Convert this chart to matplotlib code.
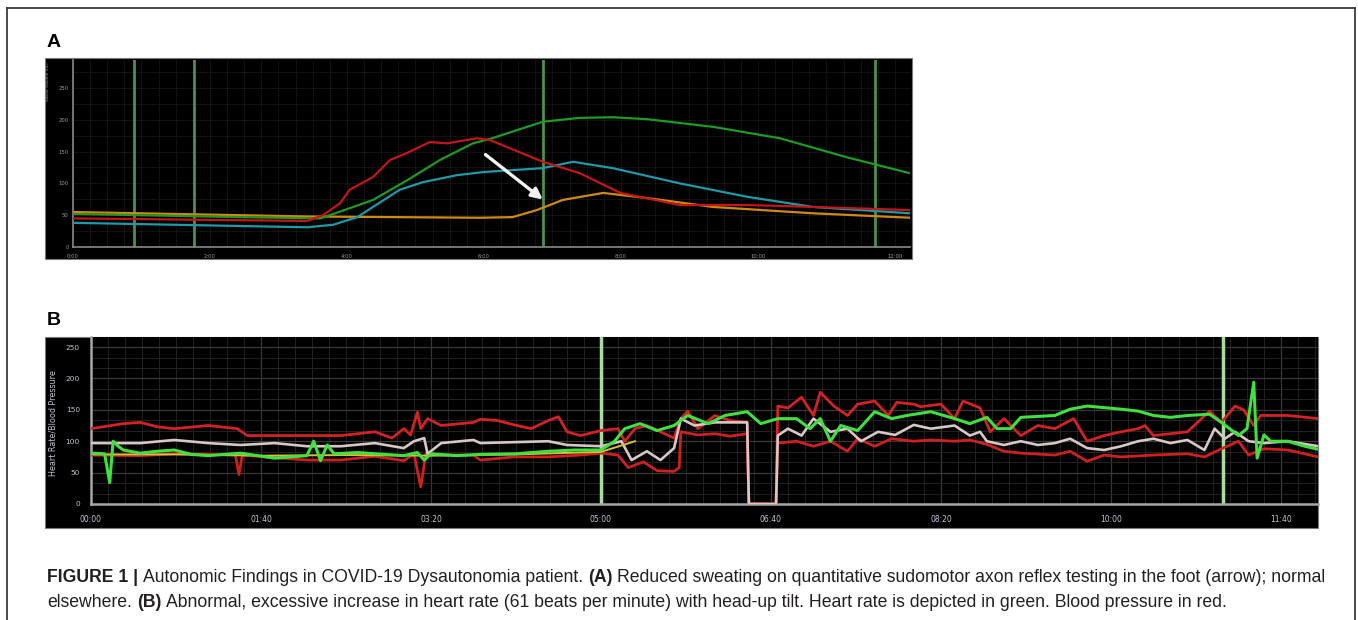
import matplotlib
matplotlib.use("Agg")
import matplotlib.pyplot as plt
from matplotlib.patches import Rectangle
from matplotlib.lines import Line2D
from matplotlib.ticker import MultipleLocator

W, H = 1358, 620

# ---- panel A: QSART sweat output (minutes / volume)
a_ticks = [0, 2, 4, 6, 8, 10, 12]
a_ticklabels = ["0:00", "2:00", "4:00", "6:00", "8:00", "10:00", "12:00"]
a_yticks = [0, 50, 100, 150, 200, 250]
a_stim = [0.89, 1.77, 6.86, 11.71]

a_green_t = [0, 2.44, 3.61, 3.75, 4.38, 4.88, 5.36, 5.84, 6.09, 6.86, 7.40, 7.88, 8.38, 9.34, 10.32, 11.30, 12.22]
a_green_v = [52, 47, 45, 50, 74, 105, 137, 163, 170, 197, 203, 204, 201, 189, 171, 141, 116]

a_red_t = [0, 3.42, 3.65, 3.90, 4.04, 4.38, 4.63, 4.88, 5.21, 5.46, 5.90, 6.09, 6.86, 7.40, 7.99, 8.86, 9.84, 10.80, 12.22]
a_red_v = [45, 41, 50, 69, 90, 110, 137, 148, 165, 163, 171, 168, 134, 116, 85, 66, 66, 63, 58]

a_cyan_t = [0, 3.42, 3.80, 4.15, 4.38, 4.77, 5.11, 5.61, 6.01, 6.86, 7.30, 7.88, 8.86, 9.84, 10.80, 12.22]
a_cyan_v = [38, 31, 35, 47, 63, 90, 102, 113, 118, 124, 134, 124, 100, 79, 63, 53]

a_orange_t = [0, 3.42, 5.94, 6.42, 6.77, 7.15, 7.74, 8.38, 9.34, 10.80, 12.22]
a_orange_v = [55, 48, 46, 47, 58, 74, 85, 77, 63, 53, 46]

a_arrow_from = (5.99, 148)
a_arrow_to = (6.89, 72)

# ---- panel B: tilt table, seconds / bpm or mmHg
b_ticks = [0, 100, 200, 300, 400, 500, 600, 700]
b_ticklabels = ["00:00", "01:40", "03:20", "05:00", "06:40", "08:20", "10:00", "11:40"]
b_yticks = [0, 50, 100, 150, 200, 250]
b_tilt = [300, 666]

hr_t = [0, 8, 11, 13, 16, 19, 29, 39, 49, 59, 69, 88, 108, 127, 131, 135, 139, 143, 157, 167,
        184, 192, 196, 200, 215, 229, 250, 269, 285, 300, 308, 314, 323, 333, 343, 351, 363,
        373, 386, 394, 404, 415, 423, 429, 435, 441, 451, 461, 471, 480, 494, 508, 517, 527,
        533, 541, 547, 567, 576, 586, 606, 616, 625, 635, 645, 658, 665, 675, 680, 684, 686,
        690, 694, 704, 714, 722]
hr_v = [81, 80, 34, 100, 92, 86, 81, 84, 86, 79, 77, 81, 73, 77, 100, 69, 94, 80, 82, 80,
        77, 82, 70, 80, 77, 79, 80, 84, 86, 86, 100, 120, 128, 117, 125, 141, 128,
        141, 147, 128, 136, 136, 120, 136, 100, 125, 117, 147, 136, 141, 147, 136, 128, 138,
        120, 120, 138, 141, 151, 156, 151, 148, 141, 138, 141, 143, 130, 109, 120, 194, 73,
        110, 100, 100, 92, 87]

sys_t = [0, 19, 29, 39, 49, 69, 86, 92, 108, 127, 147, 167, 177, 184, 188, 192, 194, 198, 206,
         225, 229, 239, 249, 259, 269, 275, 280, 288, 300, 310, 314, 320, 327, 343, 347, 351,
         357, 367, 376, 386, 387, 403, 404, 410, 418, 425, 429, 437, 445, 451, 461, 469, 474,
         484, 488, 500, 508, 513, 523, 529, 537, 547, 557, 567, 578, 586, 596, 606, 616, 620,
         625, 645, 658, 665, 673, 678, 684, 688, 704, 722]
sys_v = [120, 128, 130, 123, 120, 125, 120, 109, 109, 109, 109, 115, 105, 120, 110, 146, 120, 136, 125,
         130, 135, 133, 126, 120, 133, 139, 115, 109, 117, 120, 100, 120, 125, 105, 136, 148,
         120, 141, 133, 130, 0, 0, 156, 153, 170, 141, 178, 156, 141, 159, 164, 141, 162,
         159, 155, 159, 136, 164, 153, 115, 136, 109, 125, 120, 136, 100, 109, 115, 120, 125,
         109, 115, 148, 130, 156, 150, 125, 141, 141, 136]

mean_t = [0, 29, 49, 69, 88, 108, 127, 147, 167, 184, 190, 196, 198, 206, 225, 229, 269, 280,
          300, 312, 318, 327, 335, 343, 347, 355, 367, 386, 387, 403, 404, 410, 418, 425, 435,
          445, 453, 463, 473, 484, 494, 508, 517, 523, 527, 537, 547, 557, 567, 576, 586, 596,
          606, 616, 625, 635, 645, 655, 661, 667, 673, 681, 690, 704, 722]
mean_v = [97, 97, 102, 97, 94, 97, 92, 92, 97, 89, 100, 105, 80, 97, 102, 97, 100, 94,
          92, 100, 70, 84, 70, 89, 136, 125, 130, 130, 0, 0, 109, 120, 109, 136, 115,
          120, 100, 115, 110, 126, 120, 125, 109, 115, 100, 94, 100, 94, 97, 104, 89, 86,
          92, 100, 104, 97, 102, 86, 120, 104, 115, 100, 97, 100, 92]

dia_t = [0, 29, 49, 69, 85, 87, 89, 127, 147, 167, 184, 190, 194, 197, 206, 225, 229, 249, 269,
         288, 300, 310, 316, 325, 333, 343, 346, 347, 357, 367, 376, 386, 387, 403, 404, 415,
         425, 435, 445, 451, 461, 471, 484, 494, 508, 517, 527, 537, 547, 567, 576, 586, 596,
         606, 625, 645, 655, 665, 675, 681, 690, 704, 722]
dia_v = [78, 77, 80, 79, 78, 47, 78, 70, 70, 76, 69, 80, 27, 80, 78, 78, 70, 75, 75,
         78, 81, 78, 58, 67, 53, 52, 58, 115, 110, 112, 108, 112, 0, 0, 97, 100,
         92, 100, 84, 104, 92, 104, 100, 102, 100, 102, 95, 84, 81, 78, 84, 68, 78,
         75, 78, 80, 75, 88, 100, 78, 88, 86, 75]

ylw_t = [0, 50, 100, 150, 200, 250, 300, 320]
ylw_v = [79, 79, 77, 78, 77, 79, 83, 100]


def fx(px):
    return px / W


def fy(py):
    return 1 - py / H


fig = plt.figure(figsize=(W / 100, H / 100), dpi=100)
fig.patch.set_facecolor("white")

# outer frame
for xs, ys in [([7, 1355], [8, 8]), ([7, 7], [8, 620]), ([1355, 1355], [8, 620])]:
    fig.add_artist(Line2D([fx(v) for v in xs], [fy(v) for v in ys], color="#3a3a3a", lw=1.3))

# black screenshot backgrounds, kept under the axes
fig.add_artist(Rectangle((fx(45), fy(259)), fx(912) - fx(45), fy(58) - fy(259),
                         transform=fig.transFigure, facecolor="black", edgecolor="#7a7a7a",
                         lw=0.8, zorder=-10))
fig.add_artist(Rectangle((fx(45), fy(528)), fx(1318) - fx(45), fy(337) - fy(528),
                         transform=fig.transFigure, facecolor="black", edgecolor="#7a7a7a",
                         lw=0.8, zorder=-10))

fig.text(fx(47), fy(47), "A", fontsize=14, fontweight="bold", family="Liberation Sans", va="baseline")
fig.text(fx(47), fy(325), "B", fontsize=14, fontweight="bold", family="Liberation Sans", va="baseline")

# ---------- panel A
axA = fig.add_axes([fx(73), fy(247), fx(910) - fx(73), fy(60) - fy(247)])
axA.set_facecolor("black")
axA.set_xlim(0, 12.22)
axA.set_ylim(0, 294)
axA.xaxis.set_minor_locator(MultipleLocator(0.25))
axA.yaxis.set_minor_locator(MultipleLocator(25))
axA.grid(which="both", color="#2a2a2a", lw=0.6, ls=(0, (1, 1)))
axA.set_axisbelow(True)
for t in a_stim:
    axA.axvline(t, color="#4f8f4f", lw=2, zorder=2)
axA.plot(a_orange_t, a_orange_v, color="#d08a12", lw=1.6, zorder=3)
axA.plot(a_cyan_t, a_cyan_v, color="#1e9aa8", lw=1.6, zorder=3)
axA.plot(a_green_t, a_green_v, color="#1f9a22", lw=1.6, zorder=3)
axA.plot(a_red_t, a_red_v, color="#c41616", lw=1.6, zorder=4)
axA.annotate("", xy=a_arrow_to, xytext=a_arrow_from,
             arrowprops=dict(arrowstyle="-|>", color="#f2f2f2", lw=2.4, mutation_scale=16), zorder=5)
axA.set_xticks(a_ticks)
axA.set_xticklabels(a_ticklabels)
axA.set_yticks(a_yticks)
axA.tick_params(which="both", length=0, colors="#9a9a9a", labelsize=3.8)
axA.tick_params(axis="x", pad=5)
axA.tick_params(axis="y", pad=3)
for s in ["top", "right"]:
    axA.spines[s].set_visible(False)
for s in ["left", "bottom"]:
    axA.spines[s].set_color("#8a8a8a")
    axA.spines[s].set_linewidth(1.2)
fig.text(fx(48), fy(62), "Sweat Volume (nL)", rotation=90, fontsize=3, color="#9a9a9a",
         ha="center", va="top")

# ---------- panel B
axB = fig.add_axes([fx(91), fy(504), fx(1318) - fx(91), fy(337) - fy(504)])
axB.set_facecolor("black")
axB.set_xlim(0, 721.8)
axB.set_ylim(0, 266)
axB.xaxis.set_minor_locator(MultipleLocator(10))
axB.yaxis.set_minor_locator(MultipleLocator(50 / 3))
axB.grid(which="minor", color="#232323", lw=0.7)
axB.grid(which="major", color="#383838", lw=0.9)
axB.set_axisbelow(True)
for t in b_tilt:
    axB.axvline(t, color="#a9dca0", lw=2.5, zorder=2)
axB.plot(dia_t, dia_v, color="#cf1f1f", lw=2.0, zorder=3)
axB.plot(sys_t, sys_v, color="#d42222", lw=2.0, zorder=3)
axB.plot(mean_t, mean_v, color="#d9c6c6", lw=1.9, zorder=4)
axB.plot(ylw_t, ylw_v, color="#d6c23a", lw=1.4, zorder=4)
axB.plot(hr_t, hr_v, color="#3fe03f", lw=2.2, zorder=5)
axB.set_xticks(b_ticks)
axB.set_xticklabels(b_ticklabels)
axB.set_yticks(b_yticks)
axB.tick_params(which="both", length=0, colors="#c4c4d4", labelsize=5.5)
axB.tick_params(axis="x", pad=8)
axB.tick_params(axis="y", pad=8, labelsize=5.3)
for s in ["top", "right"]:
    axB.spines[s].set_visible(False)
for s in ["left", "bottom"]:
    axB.spines[s].set_color("#a8a8a8")
    axB.spines[s].set_linewidth(1.8)
fig.text(fx(53), fy(423), "Heart Rate/Blood Pressure", rotation=90, fontsize=5.8,
         color="#c4c4d4", ha="center", va="center")

# ---------- caption with bold pieces
line1 = [("FIGURE 1 |", True), ("Autonomic Findings in COVID-19 Dysautonomia patient.", False), ("(A)", True),
         ("Reduced sweating on quantitative sudomotor axon reflex testing in the foot (arrow); normal", False)]
line2 = [("elsewhere.", False), ("(B)", True),
         ("Abnormal, excessive increase in heart rate (61 beats per minute) with head-up tilt. "
          "Heart rate is depicted in green. Blood pressure in red.", False)]

renderer = fig.canvas.get_renderer()
cap_font = "Liberation Sans"


def text_w(s, size, bold=False):
    t = fig.text(0, 0, s, fontsize=size, family=cap_font, fontweight="bold" if bold else "normal")
    w = t.get_window_extent(renderer).width
    t.remove()
    return w


def line_w(parts, size):
    gap = text_w("a a", size) - text_w("aa", size)
    return sum(text_w(s, size, b) for s, b in parts) + gap * (len(parts) - 1)


cap_size = 10 * 1281 / line_w(line1, 10)


def draw_line(parts, y_px):
    gap = text_w("a a", cap_size) - text_w("aa", cap_size)
    x = 47
    for s, b in parts:
        fig.text(fx(x), fy(y_px), s, fontsize=cap_size, family=cap_font,
                 fontweight="bold" if b else "normal", va="baseline", color="#231f20")
        x += text_w(s, cap_size, b) + gap


draw_line(line1, 582)
draw_line(line2, 607)

fig.savefig("out.png", dpi=100, facecolor="white")
